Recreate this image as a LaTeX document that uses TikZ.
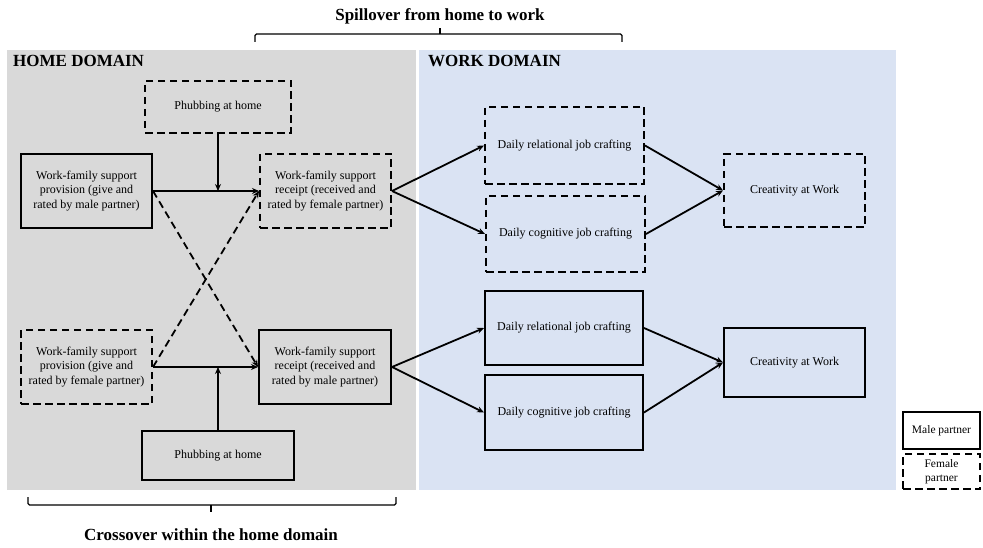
\documentclass[tikz,border=0pt]{standalone}
\usepackage{fontspec}
\setmainfont{Liberation Serif}
\usetikzlibrary{arrows.meta}
\newcommand{\bodyfont}{\fontsize{12}{14.3}\selectfont}
\newcommand{\legfont}{\fontsize{11.5}{13.5}\selectfont}
\newcommand{\hdrfont}{\fontsize{17}{20}\selectfont\bfseries}
\definecolor{homegray}{HTML}{D9D9D9}
\definecolor{workblue}{HTML}{DAE3F3}
\tikzset{
  sbox/.style={draw, line width=2pt, align=center, inner sep=0pt, font=\bodyfont},
  dbox/.style={sbox, dash pattern=on 7.5pt off 4.5pt},
  arr/.style={line width=1.8pt, -{Stealth[length=7pt,width=6pt]}},
  darr/.style={arr, dash pattern=on 7.5pt off 4.5pt},
  brc/.style={line width=1.2pt, rounded corners=1.5pt},
  hdr/.style={font=\hdrfont, inner sep=0pt}
}
\begin{document}
\begin{tikzpicture}[x=1pt,y=-1pt]
\useasboundingbox (0,0) rectangle (983,548);
\fill[homegray] (7,50) rectangle (416,490);
\fill[workblue] (419,50) rectangle (896,490);

\node[hdr, anchor=west] (hh) at (13,61) {HOME DOMAIN};
\node[hdr, anchor=west] (wh) at (428,61) {WORK DOMAIN};
\node[hdr] (sp) at (440,16) {Spillover from home to work};
\node[hdr] (co) at (211,535) {Crossover within the home domain};

% braces
\draw[brc] (255,42) -- (255,34) -- (622,34) -- (622,42);
\draw[line width=1.2pt] (440,34) -- (440,28);
\draw[brc] (28,497) -- (28,505) -- (396,505) -- (396,497);
\draw[line width=1.2pt] (211,505) -- (211,512);

% home domain nodes
\node[dbox, minimum width=146pt, minimum height=52pt] (pt) at (218,107) {Phubbing at home};
\node[sbox, minimum width=131pt, minimum height=74pt] (pm) at (86.5,191) {Work-family support\\provision (give and\\rated by male partner)};
\node[dbox, minimum width=131pt, minimum height=74pt] (rf) at (325.5,191) {Work-family support\\receipt (received and\\rated by female partner)};
\node[dbox, minimum width=131pt, minimum height=74pt] (pf) at (86.5,367) {Work-family support\\provision (give and\\rated by female partner)};
\node[sbox, minimum width=132pt, minimum height=74pt] (rm) at (325,367) {Work-family support\\receipt (received and\\rated by male partner)};
\node[sbox, minimum width=152pt, minimum height=49pt] (pb) at (218,455.5) {Phubbing at home};

% work domain nodes
\node[dbox, minimum width=159pt, minimum height=77pt] (rt) at (564.5,145.5) {Daily relational job crafting};
\node[dbox, minimum width=159pt, minimum height=76pt] (ct) at (565.5,234) {Daily cognitive job crafting};
\node[dbox, minimum width=141pt, minimum height=73pt] (crt) at (794.5,190.5) {Creativity at Work};
\node[sbox, minimum width=158pt, minimum height=74pt] (rb) at (564,328) {Daily relational job crafting};
\node[sbox, minimum width=158pt, minimum height=75pt] (cb) at (564,412.5) {Daily cognitive job crafting};
\node[sbox, minimum width=141pt, minimum height=69pt] (crb) at (794.5,362.5) {Creativity at Work};

% legend
\node[sbox, font=\legfont, minimum width=77pt, minimum height=37pt] (lm) at (941.5,430.5) {Male partner};
\node[dbox, font=\legfont, minimum width=77pt, minimum height=35pt] (lf) at (941.5,471.5) {Female\\partner};

% connectors
\draw[arr] (pm.east) -- (rf.west);
\draw[arr] (pt.south) -- (pt.south |- rf.west);
\draw[darr] (pm.east) -- (rm.west);
\draw[darr] (pf.east) -- (rf.west);
\draw[arr] (pf.east) -- (rm.west);
\draw[arr] (pb.north) -- (pb.north |- rm.west);

\draw[arr] (rf.east) -- (rt.west);
\draw[arr] (rf.east) -- (ct.west);
\draw[arr] (rt.east) -- (crt.west);
\draw[arr] (ct.east) -- (crt.west);

\draw[arr] (rm.east) -- (rb.west);
\draw[arr] (rm.east) -- (cb.west);
\draw[arr] (rb.east) -- (crb.west);
\draw[arr] (cb.east) -- (crb.west);
\end{tikzpicture}
\end{document}
